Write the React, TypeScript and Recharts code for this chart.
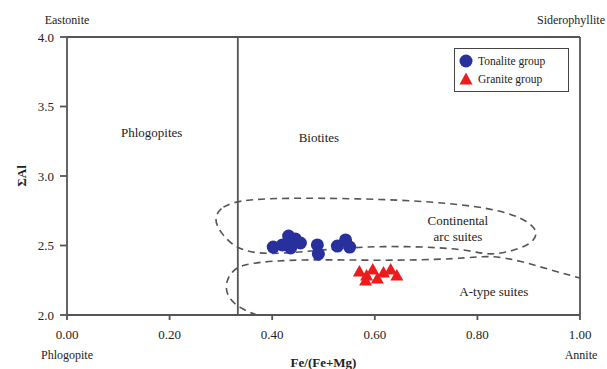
import {
  Legend,
  ReferenceDot,
  ReferenceLine,
  Scatter,
  ScatterChart,
  XAxis,
  YAxis,
} from "recharts";

const serif = '"Liberation Serif", Tinos, "DejaVu Serif", "Noto Serif", "Times New Roman", serif';

// biotite analyses: Fe/(Fe+Mg) against total Al
const tonaliteFe = [0.402, 0.42, 0.436, 0.432, 0.445, 0.455, 0.488, 0.49, 0.527, 0.543, 0.551];
const tonaliteAl = [2.489, 2.504, 2.482, 2.568, 2.547, 2.518, 2.504, 2.439, 2.496, 2.54, 2.489];
const graniteFe = [0.57, 0.584, 0.596, 0.605, 0.617, 0.631, 0.643, 0.582];
const graniteAl = [2.309, 2.281, 2.324, 2.259, 2.302, 2.324, 2.281, 2.245];

// continental arc field (closed outline)
const arcFe = [0.286, 0.299, 0.348, 0.455, 0.611, 0.748, 0.846, 0.9, 0.92, 0.904, 0.855, 0.816, 0.768, 0.611, 0.5, 0.39, 0.33, 0.3];
const arcAl = [2.683, 2.784, 2.835, 2.842, 2.835, 2.806, 2.755, 2.676, 2.59, 2.504, 2.446, 2.432, 2.482, 2.5, 2.47, 2.43, 2.47, 2.59];

// A-type field boundary
const aTypeFe = [0.37, 0.335, 0.311, 0.309, 0.323, 0.348, 0.455, 0.611, 0.768, 0.826, 0.885, 0.943, 1.0];
const aTypeAl = [2.0, 2.05, 2.137, 2.237, 2.324, 2.374, 2.403, 2.39, 2.403, 2.432, 2.388, 2.324, 2.266];

const xTicks = [0, 0.2, 0.4, 0.6, 0.8, 1];
const yTicks = [2, 2.5, 3, 3.5, 4];
const phlogopiteLimit = 0.333;
const groups = ["Tonalite group", "Granite group"];

const zip = (xs: number[], ys: number[]) => xs.map((x, i) => ({ fe: x, al: ys[i] }));

const tonalite = zip(tonaliteFe, tonaliteAl);
const granite = zip(graniteFe, graniteAl);
const arcField = zip(arcFe, arcAl);
const aTypeField = zip(aTypeFe, aTypeAl);

const BLUE = "#27309c";
const RED = "#ec1c1c";
const FRAME = "#555";

const Dot = (p: any) => <circle cx={p.cx} cy={p.cy} r={6.5} fill={BLUE} />;
const Tri = (p: any) => (
  <polygon
    points={`${p.cx},${p.cy - 7} ${p.cx + 6.5},${p.cy + 4.5} ${p.cx - 6.5},${p.cy + 4.5}`}
    fill={RED}
  />
);
const NoMark = () => <g />;

const dashed = { stroke: "#555", strokeWidth: 1.6, strokeDasharray: "7 5", fill: "none" };

function note(text: string, dx: number, dy: number, anchor = "middle", size = 13) {
  return (p: any) => (
    <text
      x={p.cx + dx}
      y={p.cy + dy}
      textAnchor={anchor}
      dominantBaseline="central"
      fontFamily={serif}
      fontSize={size}
      fill="#222"
    >
      {text}
    </text>
  );
}

function GroupLegend({ payload }: any) {
  const items = groups
    .map((g) => (payload || []).find((p: any) => p.value === g))
    .filter(Boolean);
  return (
    <div
      style={{
        border: "1.5px solid #444",
        padding: "3px 6px 3px 4px",
        background: "#fff",
        width: 103,
        fontFamily: serif,
        fontSize: 11.5,
        color: "#222",
      }}
    >
      {items.map((p: any) => (
        <div key={p.value} style={{ display: "flex", alignItems: "center", height: 18 }}>
          <svg width={14} height={14} style={{ marginRight: 5 }}>
            {p.type === "circle" ? (
              <circle cx={7} cy={7} r={6.5} fill={p.color} />
            ) : (
              <polygon points="7,0.5 13.5,12.5 0.5,12.5" fill={p.color} />
            )}
          </svg>
          {p.value}
        </div>
      ))}
    </div>
  );
}

export default function App() {
  return (
    <div style={{ position: "absolute", left: 0, top: 0, width: 607, height: 369, background: "#fff" }}>
      <ScatterChart width={607} height={369} margin={{ top: 37, right: 27, bottom: 0, left: 7 }}>
        <XAxis
          dataKey="fe"
          type="number"
          domain={[0, 1]}
          ticks={xTicks}
          tickFormatter={(v: number) => v.toFixed(2)}
          height={54}
          tickSize={5}
          tickMargin={10}
          stroke={FRAME}
          strokeWidth={1.8}
          tick={{ fill: "#222", fontFamily: serif, fontSize: 13 }}
          label={{
            content: (p: any) => (
              <text
                x={p.viewBox.x + p.viewBox.width / 2}
                y={p.viewBox.y + 52}
                textAnchor="middle"
                fontFamily={serif}
                fontSize={13}
                fontWeight="bold"
                fill="#222"
              >
                Fe/(Fe+Mg)
              </text>
            ),
          }}
        />
        <YAxis
          dataKey="al"
          type="number"
          domain={[2, 4]}
          ticks={yTicks}
          tickFormatter={(v: number) => v.toFixed(1)}
          width={60}
          tickSize={7}
          tickMargin={6}
          stroke={FRAME}
          strokeWidth={1.8}
          tick={{ fill: "#222", fontFamily: serif, fontSize: 13 }}
          label={{
            content: (p: any) => {
              const x = p.viewBox.x + 14;
              const y = p.viewBox.y + p.viewBox.height / 2;
              return (
                <text
                  x={x}
                  y={y}
                  transform={`rotate(-90 ${x} ${y})`}
                  textAnchor="middle"
                  dominantBaseline="central"
                  fontFamily={serif}
                  fontSize={13}
                  fontWeight="bold"
                  fill="#222"
                >
                  ΣAl
                </text>
              );
            },
          }}
        />

        {/* frame and the phlogopite/biotite divide */}
        <ReferenceLine y={4} stroke={FRAME} strokeWidth={1.8} />
        <ReferenceLine x={1} stroke={FRAME} strokeWidth={1.8} />
        <ReferenceLine x={phlogopiteLimit} stroke={FRAME} strokeWidth={1.8} />

        <Scatter
          data={arcField}
          shape={NoMark}
          line={dashed}
          lineJointType="basisClosed"
          legendType="none"
          fill="none"
          isAnimationActive={false}
        />
        <Scatter
          data={aTypeField}
          shape={NoMark}
          line={dashed}
          lineJointType="basis"
          legendType="none"
          fill="none"
          isAnimationActive={false}
        />

        <Scatter
          name="Tonalite group"
          data={tonalite}
          fill={BLUE}
          shape={Dot}
          legendType="circle"
          isAnimationActive={false}
        />
        <Scatter
          name="Granite group"
          data={granite}
          fill={RED}
          shape={Tri}
          legendType="triangle"
          isAnimationActive={false}
        />

        {/* field names */}
        <ReferenceDot x={0.165} y={3.31} r={0} shape={note("Phlogopites", 0, 0)} />
        <ReferenceDot x={0.491} y={3.28} r={0} shape={note("Biotites", 0, 0)} />
        <ReferenceDot x={0.762} y={2.683} r={0} shape={note("Continental", 0, 0)} />
        <ReferenceDot x={0.762} y={2.563} r={0} shape={note("arc suites", 0, 0)} />
        <ReferenceDot x={0.832} y={2.168} r={0} shape={note("A-type suites", 0, 0)} />

        {/* end-member names at the corners */}
        <ReferenceDot x={0} y={4} r={0} ifOverflow="visible" shape={note("Eastonite", 0, -17, "middle", 12)} />
        <ReferenceDot x={1} y={4} r={0} ifOverflow="visible" shape={note("Siderophyllite", 25, -17, "end", 12)} />
        <ReferenceDot x={0} y={2} r={0} ifOverflow="visible" shape={note("Phlogopite", 0, 40, "middle", 12)} />
        <ReferenceDot x={1} y={2} r={0} ifOverflow="visible" shape={note("Annite", 1, 40, "middle", 12)} />

        <Legend
          content={GroupLegend}
          layout="horizontal"
          align="center"
          verticalAlign="middle"
          wrapperStyle={{ left: 454, top: 48, width: "auto", height: "auto" }}
        />
      </ScatterChart>
    </div>
  );
}
